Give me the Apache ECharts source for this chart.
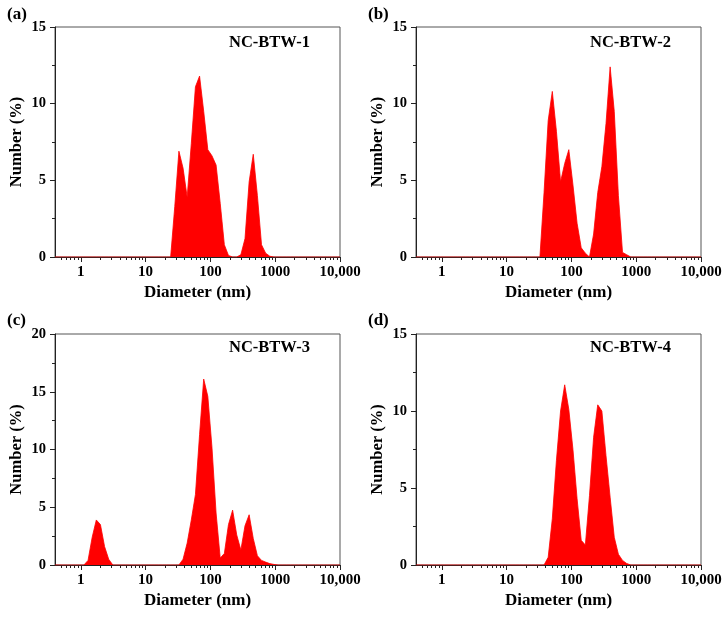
<!DOCTYPE html>
<html>
<head>
<meta charset="utf-8">
<script src="https://cdn.jsdelivr.net/npm/echarts@6/dist/echarts.min.js"></script>
<style>
  html, body { margin: 0; padding: 0; background: #fff; }
  #chart { width: 726px; height: 618px; }
</style>
</head>
<body>
<div id="chart"></div>
<script>
// Size bins (nm)
const diameters = [
  0.4, 0.4632, 0.5365, 0.6213, 0.7195, 0.8332, 0.9649, 1.117, 1.294, 1.499,
  1.736, 2.010, 2.328, 2.696, 3.122, 3.615, 4.187, 4.849, 5.615, 6.503,
  7.531, 8.721, 10.10, 11.70, 13.54, 15.69, 18.17, 21.04, 24.36, 28.21,
  32.67, 37.84, 43.82, 50.75, 58.77, 68.06, 78.82, 91.28, 105.7, 122.4,
  141.8, 164.2, 190.1, 220.2, 255.0, 295.3, 342.0, 396.1, 458.7, 531.2,
  615.1, 712.4, 825.0, 955.4, 1106, 1281, 1484, 1718, 1990, 2305,
  2669, 3091, 3580, 4145, 4801, 5560, 6439, 7456, 8635, 10000
];

// Number (%) per bin
const valuesA = [
  0, 0, 0, 0, 0, 0, 0, 0, 0, 0,
  0, 0, 0, 0, 0, 0, 0, 0, 0, 0,
  0, 0, 0, 0, 0, 0, 0, 0, 0, 3.3,
  6.9, 5.8, 3.9, 7.4, 11.1, 11.8, 9.5, 7.0, 6.6, 6.0,
  3.5, 0.8, 0.1, 0, 0, 0.15, 1.2, 4.9, 6.7, 4.0,
  0.8, 0.25, 0.05, 0, 0, 0, 0, 0, 0, 0,
  0, 0, 0, 0, 0, 0, 0, 0, 0, 0
];
const valuesB = [
  0, 0, 0, 0, 0, 0, 0, 0, 0, 0,
  0, 0, 0, 0, 0, 0, 0, 0, 0, 0,
  0, 0, 0, 0, 0, 0, 0, 0, 0, 0,
  0, 4.2, 8.9, 10.8, 8.2, 4.9, 6.1, 7.0, 4.7, 2.2,
  0.6, 0.25, 0, 1.5, 4.2, 5.9, 8.7, 12.4, 9.5, 4.0,
  0.3, 0.15, 0, 0, 0, 0, 0, 0, 0, 0,
  0, 0, 0, 0, 0, 0, 0, 0, 0, 0
];
const valuesC = [
  0, 0, 0, 0, 0, 0, 0, 0, 0.4, 2.4,
  3.9, 3.5, 1.6, 0.5, 0, 0, 0, 0, 0, 0,
  0, 0, 0, 0, 0, 0, 0, 0, 0, 0,
  0, 0.5, 1.9, 3.9, 6.1, 11.3, 16.1, 14.6, 10.2, 4.5,
  0.6, 1.0, 3.5, 4.75, 2.6, 1.3, 3.4, 4.35, 2.3, 0.8,
  0.4, 0.25, 0.12, 0.05, 0, 0, 0, 0, 0, 0,
  0, 0, 0, 0, 0, 0, 0, 0, 0, 0
];
const valuesD = [
  0, 0, 0, 0, 0, 0, 0, 0, 0, 0,
  0, 0, 0, 0, 0, 0, 0, 0, 0, 0,
  0, 0, 0, 0, 0, 0, 0, 0, 0, 0,
  0, 0, 0.5, 3.0, 6.8, 10.0, 11.7, 10.1, 7.5, 4.3,
  1.6, 1.3, 4.5, 8.3, 10.4, 10.0, 7.1, 4.4, 1.8, 0.7,
  0.3, 0.1, 0, 0, 0, 0, 0, 0, 0, 0,
  0, 0, 0, 0, 0, 0, 0, 0, 0, 0
];

const sampleNames = ['NC-BTW-1', 'NC-BTW-2', 'NC-BTW-3', 'NC-BTW-4'];
const panelLabels = ['(a)', '(b)', '(c)', '(d)'];
const yMaxes = [15, 15, 20, 15];
const xMajorTicks = [1, 10, 100, 1000, 10000];
const xMinorTicks = [
  0.5, 0.6, 0.7, 0.8, 0.9,
  2, 3, 4, 5, 6, 7, 8, 9,
  20, 30, 40, 50, 60, 70, 80, 90,
  200, 300, 400, 500, 600, 700, 800, 900,
  2000, 3000, 4000, 5000, 6000, 7000, 8000, 9000
];
const xName = 'Diameter (nm)';
const yName = 'Number (%)';

const allValues = [valuesA, valuesB, valuesC, valuesD];

const FONT = '"Liberation Serif", "Times New Roman", serif';
const AXIS_COLOR = '#222';
const RED = '#ff0000';

const grids = [
  { left: 55, top: 27, width: 285, height: 230 },
  { left: 416, top: 27, width: 285, height: 230 },
  { left: 55, top: 334, width: 285, height: 231 },
  { left: 416, top: 334, width: 285, height: 231 }
];
const panelPos = [[7, 6], [368, 6], [7, 312], [368, 312]];
const namePos = [[229, 34.5], [590, 34.5], [229, 339], [590, 339]];

const option = {
  backgroundColor: '#fff',
  animation: false,
  title: [],
  grid: [],
  xAxis: [],
  yAxis: [],
  series: []
};

for (let i = 0; i < 4; i++) {
  option.grid.push(Object.assign({ show: true, borderColor: '#555', borderWidth: 1, containLabel: false }, grids[i]));
  option.title.push({
    text: panelLabels[i], left: panelPos[i][0], top: panelPos[i][1], padding: 0,
    textStyle: { fontFamily: FONT, fontWeight: 'bold', fontSize: 17, color: '#000' }
  });
  option.title.push({
    text: sampleNames[i], left: namePos[i][0], top: namePos[i][1], padding: 0,
    textStyle: { fontFamily: FONT, fontWeight: 'bold', fontSize: 16.5, color: '#000' }
  });
  option.xAxis.push({
    gridIndex: i, type: 'log', logBase: 10, min: 0.4, max: 10000, position: 'bottom',
    name: xName, nameLocation: 'middle', nameGap: 27,
    nameTextStyle: { fontFamily: FONT, fontWeight: 'bold', fontSize: 17, color: '#000' },
    axisLine: { show: true, lineStyle: { color: AXIS_COLOR, width: 1 } },
    axisTick: { show: true, inside: false, length: 5, customValues: xMajorTicks, lineStyle: { color: AXIS_COLOR } },
    axisLabel: {
      show: true, customValues: xMajorTicks, margin: 8,
      fontFamily: FONT, fontWeight: 'bold', fontSize: 15, color: '#000',
      formatter: v => { const r = Math.round(v); return r === 10000 ? '10,000' : String(r); }
    },
    splitLine: { show: false }
  });
  option.xAxis.push({
    gridIndex: i, type: 'log', logBase: 10, min: 0.4, max: 10000, position: 'bottom',
    axisLine: { show: false },
    axisTick: { show: true, inside: false, length: 3, customValues: xMinorTicks, lineStyle: { color: AXIS_COLOR } },
    axisLabel: { show: false },
    splitLine: { show: false }
  });
  option.yAxis.push({
    gridIndex: i, type: 'value', min: 0, max: yMaxes[i], interval: 5,
    name: yName, nameLocation: 'middle', nameGap: 30, nameRotate: 90,
    nameTextStyle: { fontFamily: FONT, fontWeight: 'bold', fontSize: 16.5, color: '#000' },
    axisLine: { show: true, lineStyle: { color: AXIS_COLOR, width: 1 } },
    axisTick: { show: true, inside: false, length: 5, lineStyle: { color: AXIS_COLOR } },
    minorTick: { show: true, splitNumber: 2, length: 3, lineStyle: { color: AXIS_COLOR } },
    axisLabel: { margin: 9, fontFamily: FONT, fontWeight: 'bold', fontSize: 14.5, color: '#000' },
    splitLine: { show: false }
  });
  option.series.push({
    type: 'line', xAxisIndex: i * 2, yAxisIndex: i,
    data: diameters.map((d, k) => [d, allValues[i][k]]),
    showSymbol: false, symbol: 'none', smooth: false,
    lineStyle: { color: RED, width: 0.8 },
    areaStyle: { color: RED, opacity: 1 },
    z: 1
  });
}

const chart = echarts.init(document.getElementById('chart'), null, { renderer: 'canvas' });
chart.setOption(option);
</script>
</body>
</html>
